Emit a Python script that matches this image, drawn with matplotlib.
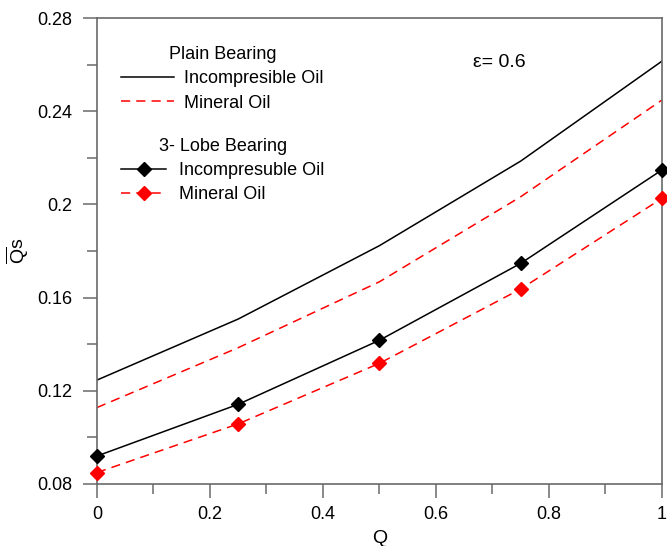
import matplotlib
matplotlib.use("Agg")
import matplotlib.pyplot as plt
from matplotlib.ticker import MultipleLocator

plt.rcParams['font.family'] = ['Liberation Sans', 'DejaVu Sans']
plt.rcParams['mathtext.fontset'] = 'custom'
plt.rcParams['mathtext.rm'] = 'Liberation Sans'
plt.rcParams['mathtext.it'] = 'Liberation Sans'

# Dimensionless load parameter Q
q = [0.0, 0.25, 0.5, 0.75, 1.0]

# Side leakage Qs - plain journal bearing
plain_incompressible = [0.1246, 0.1508, 0.1823, 0.2186, 0.2615]
plain_mineral = [0.1128, 0.1385, 0.1668, 0.2033, 0.2448]

# Side leakage Qs - three-lobe bearing
lobe_incompressible = [0.0920, 0.1142, 0.1417, 0.1747, 0.2148]
lobe_mineral = [0.0849, 0.1058, 0.1318, 0.1637, 0.2026]

x_ticks = [0, 0.2, 0.4, 0.6, 0.8, 1]
y_ticks = [0.08, 0.12, 0.16, 0.2, 0.24, 0.28]

fig = plt.figure(figsize=(6.67, 5.46), dpi=100)
ax = fig.add_axes([0.1454, 0.1136, 0.8471, 0.8534])

dash = (0, (6, 4))
l1, = ax.plot(q, plain_incompressible, color='black', lw=1.1)
l2, = ax.plot(q, plain_mineral, color='red', lw=1.1, linestyle=dash)
l3, = ax.plot(q, lobe_incompressible, color='black', lw=1.1,
              marker='D', markersize=6.8, clip_on=False, zorder=5)
l4, = ax.plot(q, lobe_mineral, color='red', lw=1.1, linestyle=dash,
              marker='D', markersize=6.8, clip_on=False, zorder=5)

ax.set_xlim(0, 1)
ax.set_ylim(0.08, 0.28)
ax.set_xticks(x_ticks)
ax.set_yticks(y_ticks)
ax.xaxis.set_minor_locator(MultipleLocator(0.1))
ax.yaxis.set_minor_locator(MultipleLocator(0.02))
ax.set_xticklabels(['0', '0.2', '0.4', '0.6', '0.8', '1'])
ax.set_yticklabels(['0.08', '0.12', '0.16', '0.2', '0.24', '0.28'])

spine_c = '#6a6a6a'
for s in ax.spines.values():
    s.set_color(spine_c)
    s.set_linewidth(1.2)
ax.tick_params(which='major', direction='out', length=10, width=1.1,
               color=spine_c, labelsize=13, pad=8)
ax.tick_params(which='minor', direction='out', length=7, width=1.1,
               color=spine_c)
ax.tick_params(axis='x', which='major', pad=6)

ax.set_xlabel('Q', fontsize=14, labelpad=5)
ax.set_ylabel(r'$\overline{\mathrm{Q}}\mathrm{s}$', fontsize=14, labelpad=4)

ax.text(0.665, 0.905, 'ε= 0.6', transform=ax.transAxes, fontsize=14,
        ha='left', va='center')

leg1 = ax.legend([l1, l2], ['Incompresible Oil', 'Mineral Oil'],
                 title='Plain Bearing', loc='upper left',
                 bbox_to_anchor=(0.03, 0.955), frameon=False, fontsize=13,
                 title_fontsize=13, handlelength=2.9, handletextpad=0.6,
                 labelspacing=0.4, borderaxespad=0)
ax.add_artist(leg1)
ax.legend([l3, l4], ['Incompresuble Oil', 'Mineral Oil'],
          title='3- Lobe Bearing', loc='upper left',
          bbox_to_anchor=(0.03, 0.758), frameon=False, fontsize=13,
          title_fontsize=13, handlelength=2.5, handletextpad=0.7,
          labelspacing=0.4, borderaxespad=0, numpoints=1)

fig.savefig('out.png', dpi=100)
